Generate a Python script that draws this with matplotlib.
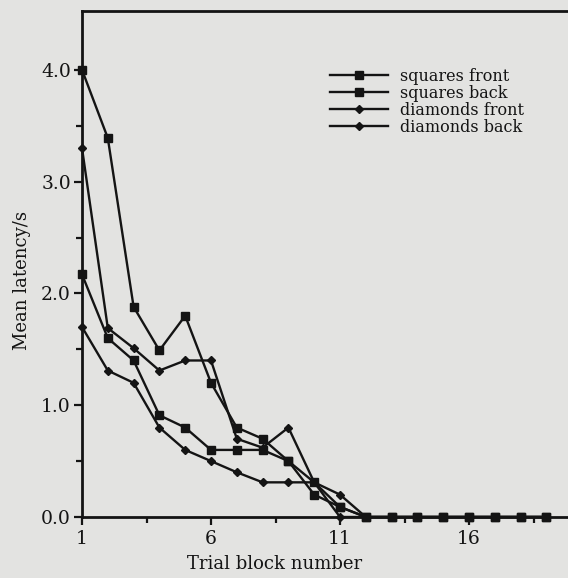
import matplotlib
matplotlib.use("Agg")
import matplotlib.pyplot as plt
import numpy as np
from matplotlib.ticker import MultipleLocator, FixedLocator

# trial blocks 1..19
blocks = list(range(1, 20))

squares_front = [2.17, 1.60, 1.40, 0.91, 0.80, 0.60, 0.60, 0.60, 0.50, 0.31, 0.09,
                 0, 0, 0, 0, 0, 0, 0, 0]
squares_back = [4.00, 3.39, 1.88, 1.49, 1.80, 1.20, 0.80, 0.70, 0.50, 0.20, 0.09,
                0, 0, 0, 0, 0, 0, 0, 0]
diamonds_front = [3.30, 1.69, 1.51, 1.31, 1.40, 1.40, 0.70, 0.62, 0.80, 0.31, 0.00,
                  0, 0, 0, 0, 0, 0, 0, 0]
diamonds_back = [1.70, 1.31, 1.20, 0.80, 0.60, 0.50, 0.40, 0.31, 0.31, 0.31, 0.20,
                 0, 0, 0, 0, 0, 0, 0, 0]

series = [
    ("squares front", squares_front, "s", 5.8),
    ("squares back", squares_back, "s", 5.8),
    ("diamonds front", diamonds_front, "D", 4.0),
    ("diamonds back", diamonds_back, "D", 4.0),
]

plt.rcParams["font.family"] = ["DejaVu Serif"]

ink = "#141414"
bg = "#e3e3e1"
fig = plt.figure(figsize=(5.68, 5.78), dpi=100, facecolor=bg)
ax = fig.add_axes([82 / 568, 1 - 517 / 578, 1 - 82 / 568, (517 - 11) / 578])
ax.set_facecolor(bg)

for label, vals, mk, ms in series:
    ax.plot(blocks, vals, color=ink, lw=1.7, marker=mk, ms=ms,
            mec=ink, mfc=ink, label=label, clip_on=False, zorder=3)

ax.set_xlim(1, 1 + (568 - 82) / 25.8)
ax.set_ylim(0, (517 - 11) / 111.8)

ax.xaxis.set_major_locator(FixedLocator([1, 6, 11, 16]))
ax.xaxis.set_minor_locator(FixedLocator([3.5, 8.5, 13.5, 18.5]))
ax.yaxis.set_major_locator(FixedLocator([0, 1, 2, 3, 4]))
ax.yaxis.set_minor_locator(FixedLocator([0.5, 1.5, 2.5, 3.5]))
ax.yaxis.set_major_formatter(matplotlib.ticker.FormatStrFormatter("%.1f"))

ax.tick_params(axis="both", which="major", direction="out", length=6, width=1.6,
               labelsize=13.5, color=ink, labelcolor=ink)
ax.tick_params(axis="both", which="minor", direction="out", length=4, width=1.6,
               color=ink)
ax.tick_params(axis="y", pad=2)
ax.tick_params(axis="x", pad=3)

for side in ("left", "bottom", "top"):
    ax.spines[side].set_linewidth(2)
    ax.spines[side].set_color(ink)
ax.spines["right"].set_visible(False)

ax.set_xlabel("Trial block number", fontsize=13, color=ink)
ax.xaxis.set_label_coords((275 - 82) / 486, (517 - 555) / 506)
ax.set_ylabel("Mean latency/s", fontsize=13, color=ink)
ax.yaxis.set_label_coords((31 - 82) / 486, (517 - 280) / 506)

leg = ax.legend(loc="upper left", bbox_to_anchor=((330 - 82) / 486, (517 - 68) / 506),
                frameon=False, fontsize=11.5, handlelength=3.6, handletextpad=0.8,
                labelspacing=0.0, borderpad=0, borderaxespad=0)
for t in leg.get_texts():
    t.set_color(ink)

fig.savefig("out.png", dpi=100, facecolor=bg)
